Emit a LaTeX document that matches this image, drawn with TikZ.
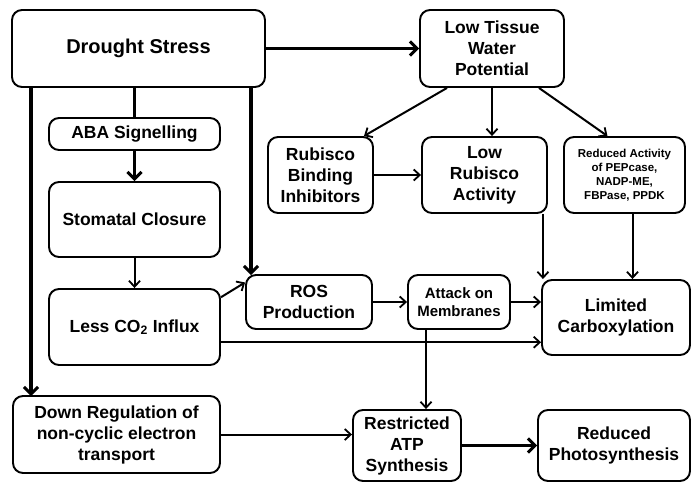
\documentclass[tikz,border=0pt]{standalone}
\usepackage{fontspec}
\setmainfont{Liberation Sans}
\usetikzlibrary{arrows.meta}

\begin{document}
\begin{tikzpicture}[x=1pt,y=-1pt,
  box/.style={draw,line width=1.9pt,rounded corners=10pt,align=center,inner sep=2pt,
    font=\fontsize{17.5}{21}\selectfont\bfseries},
  link/.style={line width=2pt,-{Straight Barb[length=6pt,width=11pt,line width=1.8pt]}},
  strong/.style={line width=3.4pt,-{Straight Barb[length=7pt,width=14pt,line width=3pt]}}]
\useasboundingbox (0,0) rectangle (691,483);

\node[box,minimum width=253pt,minimum height=77pt,font=\fontsize{20}{24}\selectfont\bfseries] (drought) at (138.5,48.5) {Drought Stress};
\node[box,minimum width=144pt,minimum height=77pt] (lowwater) at (492,48.5) {Low Tissue\\Water\\Potential};
\node[box,minimum width=171pt,minimum height=32pt] (aba) at (134.5,134) {ABA Signelling};
\node[box,minimum width=171pt,minimum height=75pt] (stomata) at (134.5,219.5) {Stomatal Closure};
\node[box,minimum width=171pt,minimum height=76pt] (lessco) at (134.5,327) {Less CO\textsubscript{2} Influx};
\node[box,minimum width=207pt,minimum height=77pt] (downreg) at (116.5,434.5) {Down Regulation of\\non-cyclic electron\\transport};
\node[box,minimum width=105pt,minimum height=76pt] (binding) at (320.5,175) {Rubisco\\Binding\\Inhibitors};
\node[box,minimum width=125pt,minimum height=76pt] (lowrub) at (484.5,175) {Low\\Rubisco\\Activity};
\node[box,minimum width=121pt,minimum height=76pt,font=\fontsize{11.5}{14}\selectfont\bfseries] (enzymes) at (624.5,175) {Reduced Activity\\of PEPcase,\\NADP-ME,\\FBPase, PPDK};
\node[box,minimum width=126pt,minimum height=54pt] (ros) at (309,302) {ROS\\Production};
\node[box,minimum width=102pt,minimum height=54pt,font=\fontsize{15}{18}\selectfont\bfseries] (attack) at (459,302) {Attack on\\Membranes};
\node[box,minimum width=148pt,minimum height=75pt] (carbox) at (616,317.5) {Limited\\Carboxylation};
\node[box,minimum width=108pt,minimum height=71pt] (atp) at (407,445.5) {Restricted\\ATP\\Synthesis};
\node[box,minimum width=152pt,minimum height=71pt] (photo) at (614,445.5) {Reduced\\Photosynthesis};

\coordinate (rosin) at (251,275);
\coordinate (downin) at (31,396);

\draw[strong] (drought.east) -- (lowwater.west);
\draw[line width=3.4pt] (aba.north |- drought.south) -- (aba.north);
\draw[strong] (aba.south) -- (stomata.north);
\draw[strong] (drought.south -| rosin) -- (rosin);
\draw[strong] (drought.south -| downin) -- (downin);

\draw[link] (stomata.south) -- (lessco.north);
\draw[link] (lessco.19) -- (ros.163);
\draw[link] (lessco.-10) -- (lessco.-10 -| carbox.west);
\draw[link] (downreg.east) -- (downreg.east -| atp.west);
\draw[link] (ros.east) -- (attack.west);
\draw[link] (attack.east) -- (attack.east -| carbox.west);
\draw[link] ([xshift=-33pt]attack.south) -- ([xshift=-33pt]attack.south |- atp.north);
\draw[strong] (atp.east) -- (photo.west);

\draw[link] ([xshift=-45pt]lowwater.south) -- ([xshift=-10pt]binding.north east);
\draw[link] (lowwater.south) -- (lowwater.south |- lowrub.north);
\draw[link] ([xshift=47pt]lowwater.south) -- ([xshift=-17pt]enzymes.north);
\draw[link] (binding.east) -- (lowrub.west);
\draw[link] ([xshift=-5pt]lowrub.south east) -- ([xshift=-5pt]lowrub.south east |- carbox.north);
\draw[link] ([xshift=8pt]enzymes.south) -- ([xshift=8pt]enzymes.south |- carbox.north);

\end{tikzpicture}
\end{document}
